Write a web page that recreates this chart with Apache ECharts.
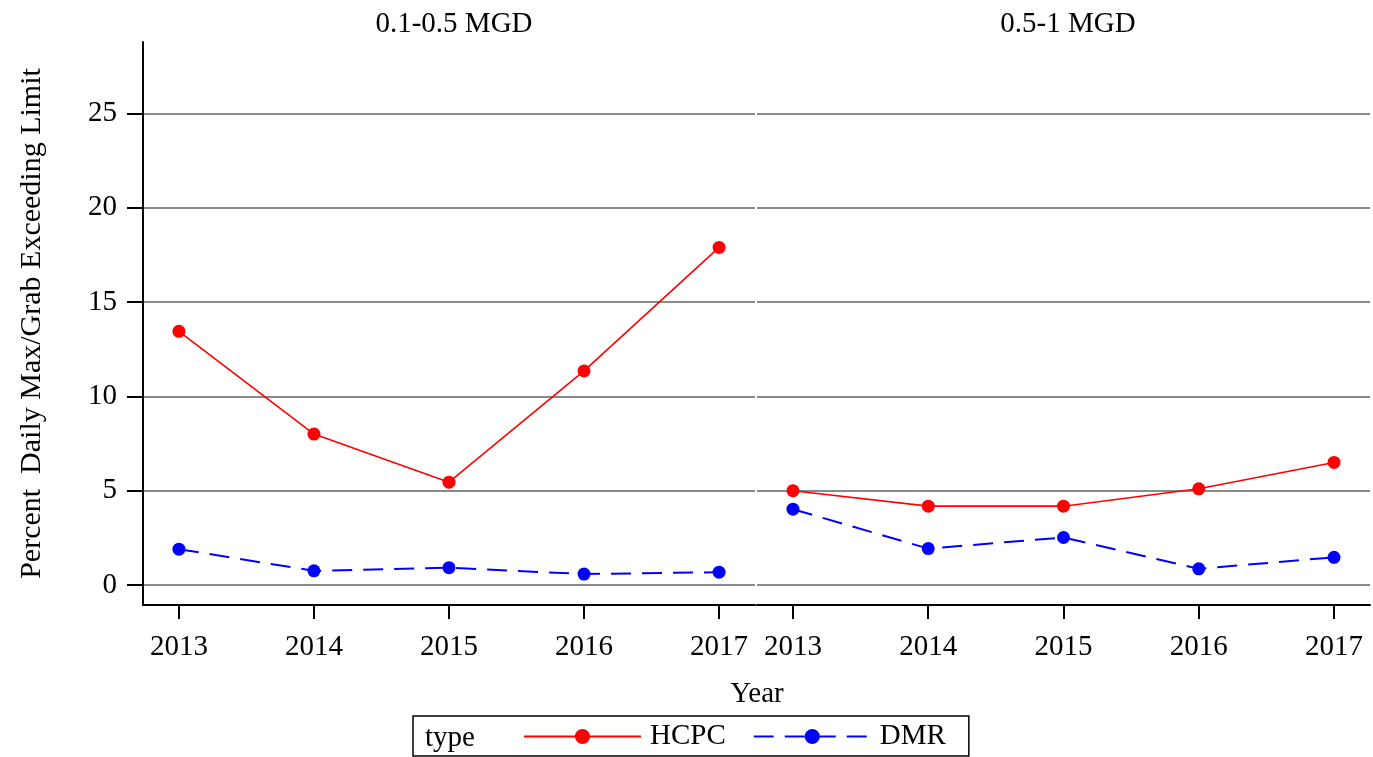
<!DOCTYPE html>
<html>
<head>
<meta charset="utf-8">
<script src="https://cdn.jsdelivr.net/npm/echarts@6/dist/echarts.min.js"></script>
<style>html,body{margin:0;padding:0;background:#fff;}#c{width:1373px;height:757px;}</style>
</head>
<body>
<div id="c"></div>
<script>
var years = [2013, 2014, 2015, 2016, 2017];
var panelTitles = ['0.1-0.5 MGD', '0.5-1 MGD'];
var yTicks = [0, 5, 10, 15, 20, 25];
var hcpcSmall = [13.45, 8.0, 5.45, 11.35, 17.9];
var dmrSmall = [1.9, 0.75, 0.92, 0.58, 0.68];
var hcpcLarge = [5.0, 4.18, 4.18, 5.1, 6.5];
var dmrLarge = [4.02, 1.93, 2.52, 0.86, 1.47];

var FONT = 'Liberation Serif';
var FS = 29;

function pairs(vals) { return years.map(function (y, i) { return [y, vals[i]]; }); }

function xAxisDef(idx) {
  return {
    type: 'value', gridIndex: idx, min: 2012.734, max: 2017.266,
    axisLine: { show: true, onZero: false, lineStyle: { color: '#000', width: 2 } },
    axisTick: { show: true, length: 14, lineStyle: { color: '#000', width: 2 }, customValues: years },
    axisLabel: { customValues: years, formatter: function (v) { return String(v); },
      color: '#000', fontFamily: FONT, fontSize: FS, margin: 28 },
    splitLine: { show: false }
  };
}
function yAxisDef(idx) {
  var first = idx === 0;
  return {
    type: 'value', gridIndex: idx, min: -1.06, max: 28.79,
    name: first ? 'Percent  Daily Max/Grab Exceeding Limit' : '',
    nameLocation: 'middle', nameGap: 96, nameRotate: 90,
    nameTextStyle: { color: '#000', fontFamily: FONT, fontSize: 30 },
    axisLine: { show: first, lineStyle: { color: '#000', width: 2 } },
    axisTick: { show: first, length: 16, lineStyle: { color: '#000', width: 2 }, customValues: yTicks },
    axisLabel: { show: first, customValues: yTicks, color: '#000', fontFamily: FONT, fontSize: FS, margin: 26 },
    splitLine: { show: true, lineStyle: { color: '#8a8a8a', width: 2 } }
  };
}
function lineSeries(name, vals, idx, color, dashed) {
  return {
    name: name, type: 'line', xAxisIndex: idx, yAxisIndex: idx,
    data: pairs(vals), symbol: 'circle', symbolSize: 13,
    itemStyle: { color: color },
    lineStyle: { color: color, width: dashed ? 2 : 1.6, type: dashed ? [20, 11] : 'solid' },
    animation: false
  };
}

var chart = echarts.init(document.getElementById('c'));
chart.setOption({
  animation: false,
  backgroundColor: '#fff',
  title: [
    { text: panelTitles[0], left: 449, top: 5, textAlign: 'center',
      textStyle: { color: '#000', fontFamily: FONT, fontSize: FS, fontWeight: 'normal' } },
    { text: panelTitles[1], left: 1063, top: 5, textAlign: 'center',
      textStyle: { color: '#000', fontFamily: FONT, fontSize: FS, fontWeight: 'normal' } }
  ],
  grid: [
    { left: 143, top: 42, width: 612, height: 563 },
    { left: 757, top: 42, width: 613, height: 563 }
  ],
  xAxis: [xAxisDef(0), xAxisDef(1)],
  yAxis: [yAxisDef(0), yAxisDef(1)],
  legend: {
    data: ['HCPC', 'DMR'], left: 413, top: 716,
    padding: [5, 23, 4, 110], itemWidth: 117, itemHeight: 19, itemGap: 27,
    borderColor: '#000', borderWidth: 1.5,
    textStyle: { color: '#000', fontFamily: FONT, fontSize: FS, lineHeight: 31, padding: [0, 0, 0, 4] }
  },
  graphic: [
    { type: 'text', x: 425, y: 738, style: { text: 'type', fill: '#000', font: FS + 'px "' + FONT + '"', align: 'left', verticalAlign: 'middle' } },
    { type: 'text', x: 757, y: 694, style: { text: 'Year', fill: '#000', font: FS + 'px "' + FONT + '"', align: 'center', verticalAlign: 'middle' } }
  ],
  series: [
    lineSeries('HCPC', hcpcSmall, 0, '#ff0000', false),
    lineSeries('DMR', dmrSmall, 0, '#0000ff', true),
    lineSeries('HCPC', hcpcLarge, 1, '#ff0000', false),
    lineSeries('DMR', dmrLarge, 1, '#0000ff', true)
  ]
});
</script>
</body>
</html>
